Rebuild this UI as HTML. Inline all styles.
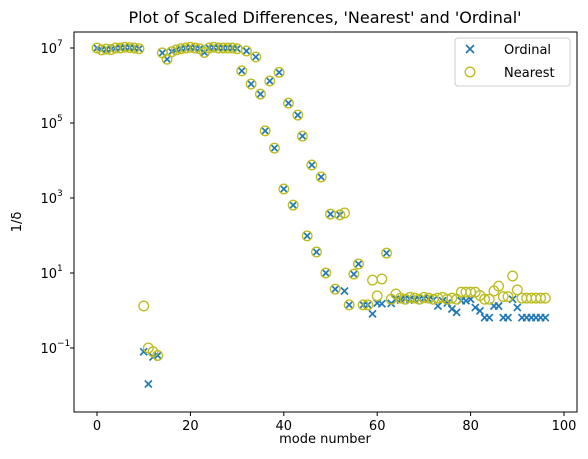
<!DOCTYPE html>
<html><head><meta charset="utf-8"><style>
body{margin:0;background:#fff;font-family:"DejaVu Sans","Liberation Sans",sans-serif}
svg text{font-family:"DejaVu Sans","Liberation Sans",sans-serif;fill:#000}
</style></head><body>
<svg id="chart" width="588" height="455">
<rect x="0" y="0" width="588" height="455" fill="#fff"/>
<text x="325" y="23" font-size="16" text-anchor="middle">Plot of Scaled Differences, 'Nearest' and 'Ordinal'</text>
<g id="axes"></g>
<g id="marks"></g>
<rect x="74" y="32" width="503" height="380" fill="none" stroke="#000" stroke-width="1"/>
<text x="325" y="443" font-size="13" text-anchor="middle">mode number</text>
<text transform="translate(21,222) rotate(-90)" font-size="13" text-anchor="middle">1/δ</text>
<g>
<rect x="455" y="38" width="115" height="48" rx="3" fill="#fff" stroke="#ccc"/>
<g>
<path d="M466,45 L474,53 M474,45 L466,53" stroke="#1f77b4" stroke-width="1.6"/>
<text x="504" y="54" font-size="13">Ordinal</text></g>
<g>
<circle cx="470" cy="72" r="4.8" fill="none" stroke="#bcbd22" stroke-width="1.3"/>
<text x="504" y="77" font-size="13">Nearest</text></g>
</g>
</svg>
<script>
const xTicks=[0,20,40,60,80,100];
const yTickExps=[-1,1,3,5,7];
const ordinal=[7,6.95,6.97,6.96,7,7,7.02,7.01,7,6.98,
-1.1,-1.96,-1.24,-1.2,6.87,6.7,6.9,6.95,6.98,7.0,
7.02,7.0,6.98,6.88,7.0,7.02,7.0,7.0,7.0,7.0,
6.98,6.39,6.92,6.04,6.76,5.77,4.79,6.12,4.33,6.35,
3.24,5.53,2.81,5.21,4.65,1.99,3.88,1.56,3.56,1.0,
2.57,0.57,2.55,0.52,0.15,0.97,1.24,0.15,0.15,-0.09,
0.2,0.18,1.53,0.19,0.3,0.28,0.32,0.3,0.28,0.3,
0.32,0.3,0.28,0.12,0.26,0.2,0.04,-0.05,0.26,0.26,
0.3,0.08,-0.01,-0.19,-0.19,0.12,0.12,-0.19,-0.19,0.3,
0.08,-0.19,-0.19,-0.19,-0.19,-0.19,-0.19];
const nearest=[7,6.95,6.97,6.96,7,7,7.02,7.01,7,6.98,
0.12,-1.0,-1.1,-1.2,6.87,6.7,6.9,6.95,6.98,7.0,
7.02,7.0,6.98,6.88,7.0,7.02,7.0,7.0,7.0,7.0,
6.98,6.39,6.92,6.04,6.76,5.77,4.79,6.12,4.33,6.35,
3.24,5.53,2.81,5.21,4.65,1.99,3.88,1.56,3.56,1.0,
2.57,0.57,2.55,2.6,0.15,0.97,1.24,0.15,0.15,0.81,
0.39,0.84,1.53,0.3,0.44,0.33,0.3,0.35,0.33,0.3,
0.35,0.33,0.3,0.33,0.35,0.3,0.33,0.3,0.49,0.49,
0.49,0.49,0.4,0.3,0.3,0.52,0.65,0.37,0.37,0.92,
0.55,0.33,0.33,0.33,0.33,0.33,0.33];
const X=v=>97+v*4.67;
const Y=l=>48+(7-l)*37.5;
const NS='http://www.w3.org/2000/svg';
const axes=document.getElementById('axes'),marks=document.getElementById('marks');
function mk(t,a,p){const e=document.createElementNS(NS,t);for(const k in a)e.setAttribute(k,a[k]);p.appendChild(e);return e;}
xTicks.forEach(v=>{
 const l=mk('line',{x1:X(v),x2:X(v),y1:412,y2:416,stroke:'#000'},axes);
 
 
 const t=mk('text',{x:X(v),y:430,'font-size':13,'text-anchor':'middle'},axes);
 t.textContent=v;
 
 
});
yTickExps.forEach(e=>{
 const l=mk('line',{x1:70,x2:74,y1:Y(e),y2:Y(e),stroke:'#000'},axes);
 
 
 const t=mk('text',{x:57,y:Y(e)+5,'font-size':13,'text-anchor':'end'},axes);
 t.textContent='10';
 
 
 const s=mk('text',{x:57,y:Y(e)-2,'font-size':9},axes);
 s.textContent=(e<0?'\u2212':'')+Math.abs(e);
 
 
});
ordinal.forEach((v,i)=>{
 const x=X(i),y=Y(v);
 const p=mk('path',{d:`M${x-3.5},${y-3.5}L${x+3.5},${y+3.5}M${x+3.5},${y-3.5}L${x-3.5},${y+3.5}`,stroke:'#1f77b4','stroke-width':1.6},marks);
 
 
});
nearest.forEach((v,i)=>{
 const c=mk('circle',{cx:X(i),cy:Y(v),r:4.8,fill:'none',stroke:'#bcbd22','stroke-width':1.3},marks);
 
 
});
</script>
</body></html>
